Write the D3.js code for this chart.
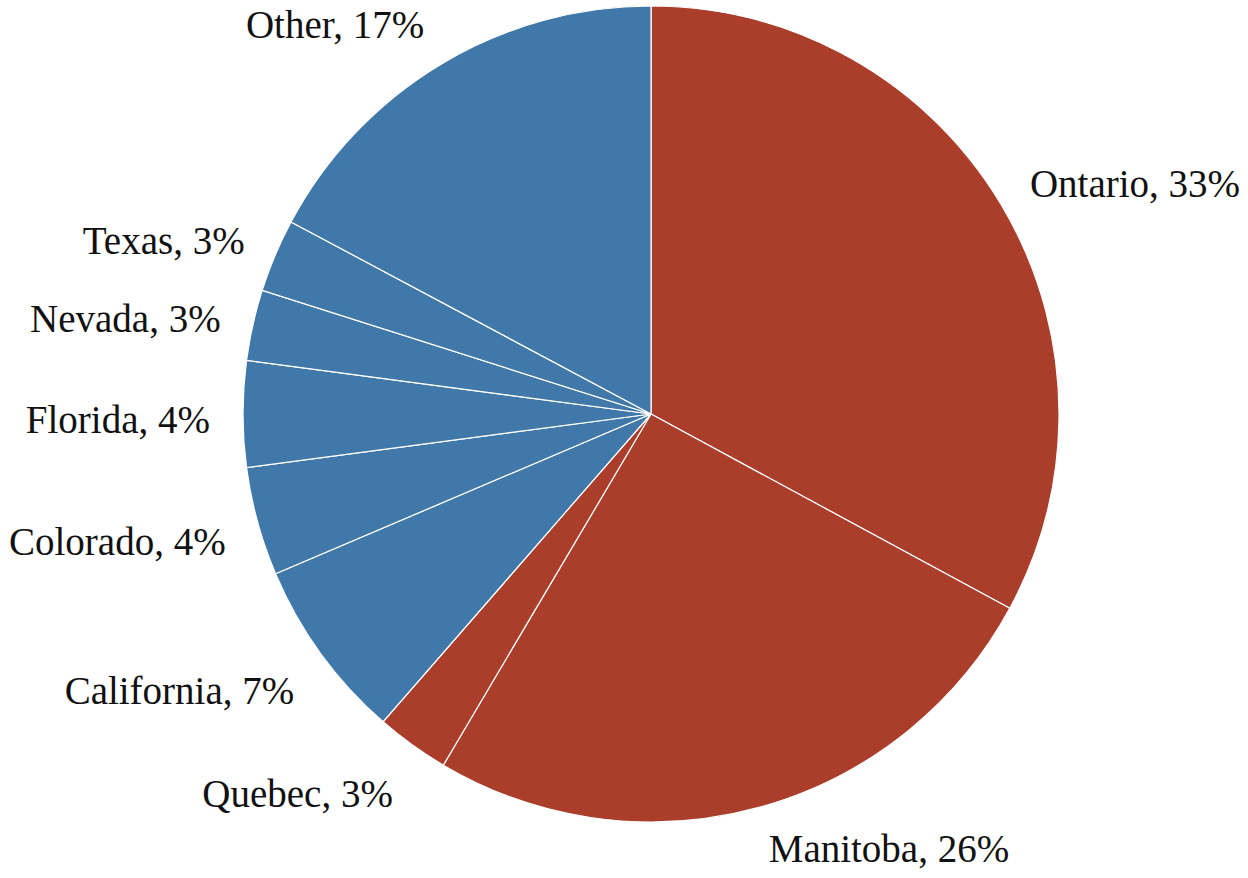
<!DOCTYPE html>
<html>
<head>
<meta charset="utf-8">
<script src="https://cdn.jsdelivr.net/npm/d3@7"></script>
<style>
  body { margin: 0; background: #fff; }
  text { font-family: "Liberation Serif", "Times New Roman", serif; fill: #111; }
</style>
</head>
<body>
<div id="chart"></div>
<script>
(() => {
    // slice data, clockwise from 12 o'clock
    var regions = ["Ontario", "Manitoba", "Quebec", "California", "Colorado", "Florida", "Nevada", "Texas", "Other"];
    var shares = [32.9, 25.6, 2.9, 7.2, 4.3, 4.2, 2.8, 2.9, 17.2];
    var country = ["CA", "CA", "CA", "US", "US", "US", "US", "US", "US"];

    var width = 1248, height = 878;
    var cx = 651, cy = 414, radius = 408;
    var labelRadius = radius + 33;
    var fontSize = 39;

    var color = d3.scaleOrdinal().domain(["CA", "US"]).range(["#ab3e2b", "#4079a9"]);

    var data = regions.map(function (r, i) {
        return { region: r, value: shares[i], country: country[i] };
    });

    var pie = d3.pie().sort(null).value(function (d) { return d.value; });
    var arc = d3.arc().innerRadius(0).outerRadius(radius);

    var svg = d3.select("#chart").append("svg")
        .attr("width", width)
        .attr("height", height);

    var g = svg.append("g")
        .attr("transform", "translate(" + cx + "," + cy + ")");

    var arcs = pie(data);

    g.selectAll("path")
        .data(arcs)
        .enter().append("path")
        .attr("d", arc)
        .attr("fill", function (d) { return color(d.data.country); })
        .attr("stroke", "#fff")
        .attr("stroke-width", 1.2);

    // labels outside the pie, aligned away from the centre
    g.selectAll("text.label")
        .data(arcs)
        .enter().append("text")
        .attr("class", "label")
        .style("font-size", fontSize + "px")
        .each(function (d) {
            var a = (d.startAngle + d.endAngle) / 2;
            var s = Math.sin(a), c = Math.cos(a);
            var x = labelRadius * s;
            var capMid = -labelRadius * c + 6 - 20 * c;
            var baseline = capMid + 0.33 * fontSize;
            // keep inside the picture
            var maxBase = height - cy - 16;
            if (baseline > maxBase) baseline = maxBase;
            d3.select(this)
                .attr("x", x)
                .attr("y", baseline)
                .attr("text-anchor", s >= 0 ? "start" : "end")
                .text(d.data.region + ", " + Math.round(d.data.value) + "%");
        });
})();
</script>
</body>
</html>
